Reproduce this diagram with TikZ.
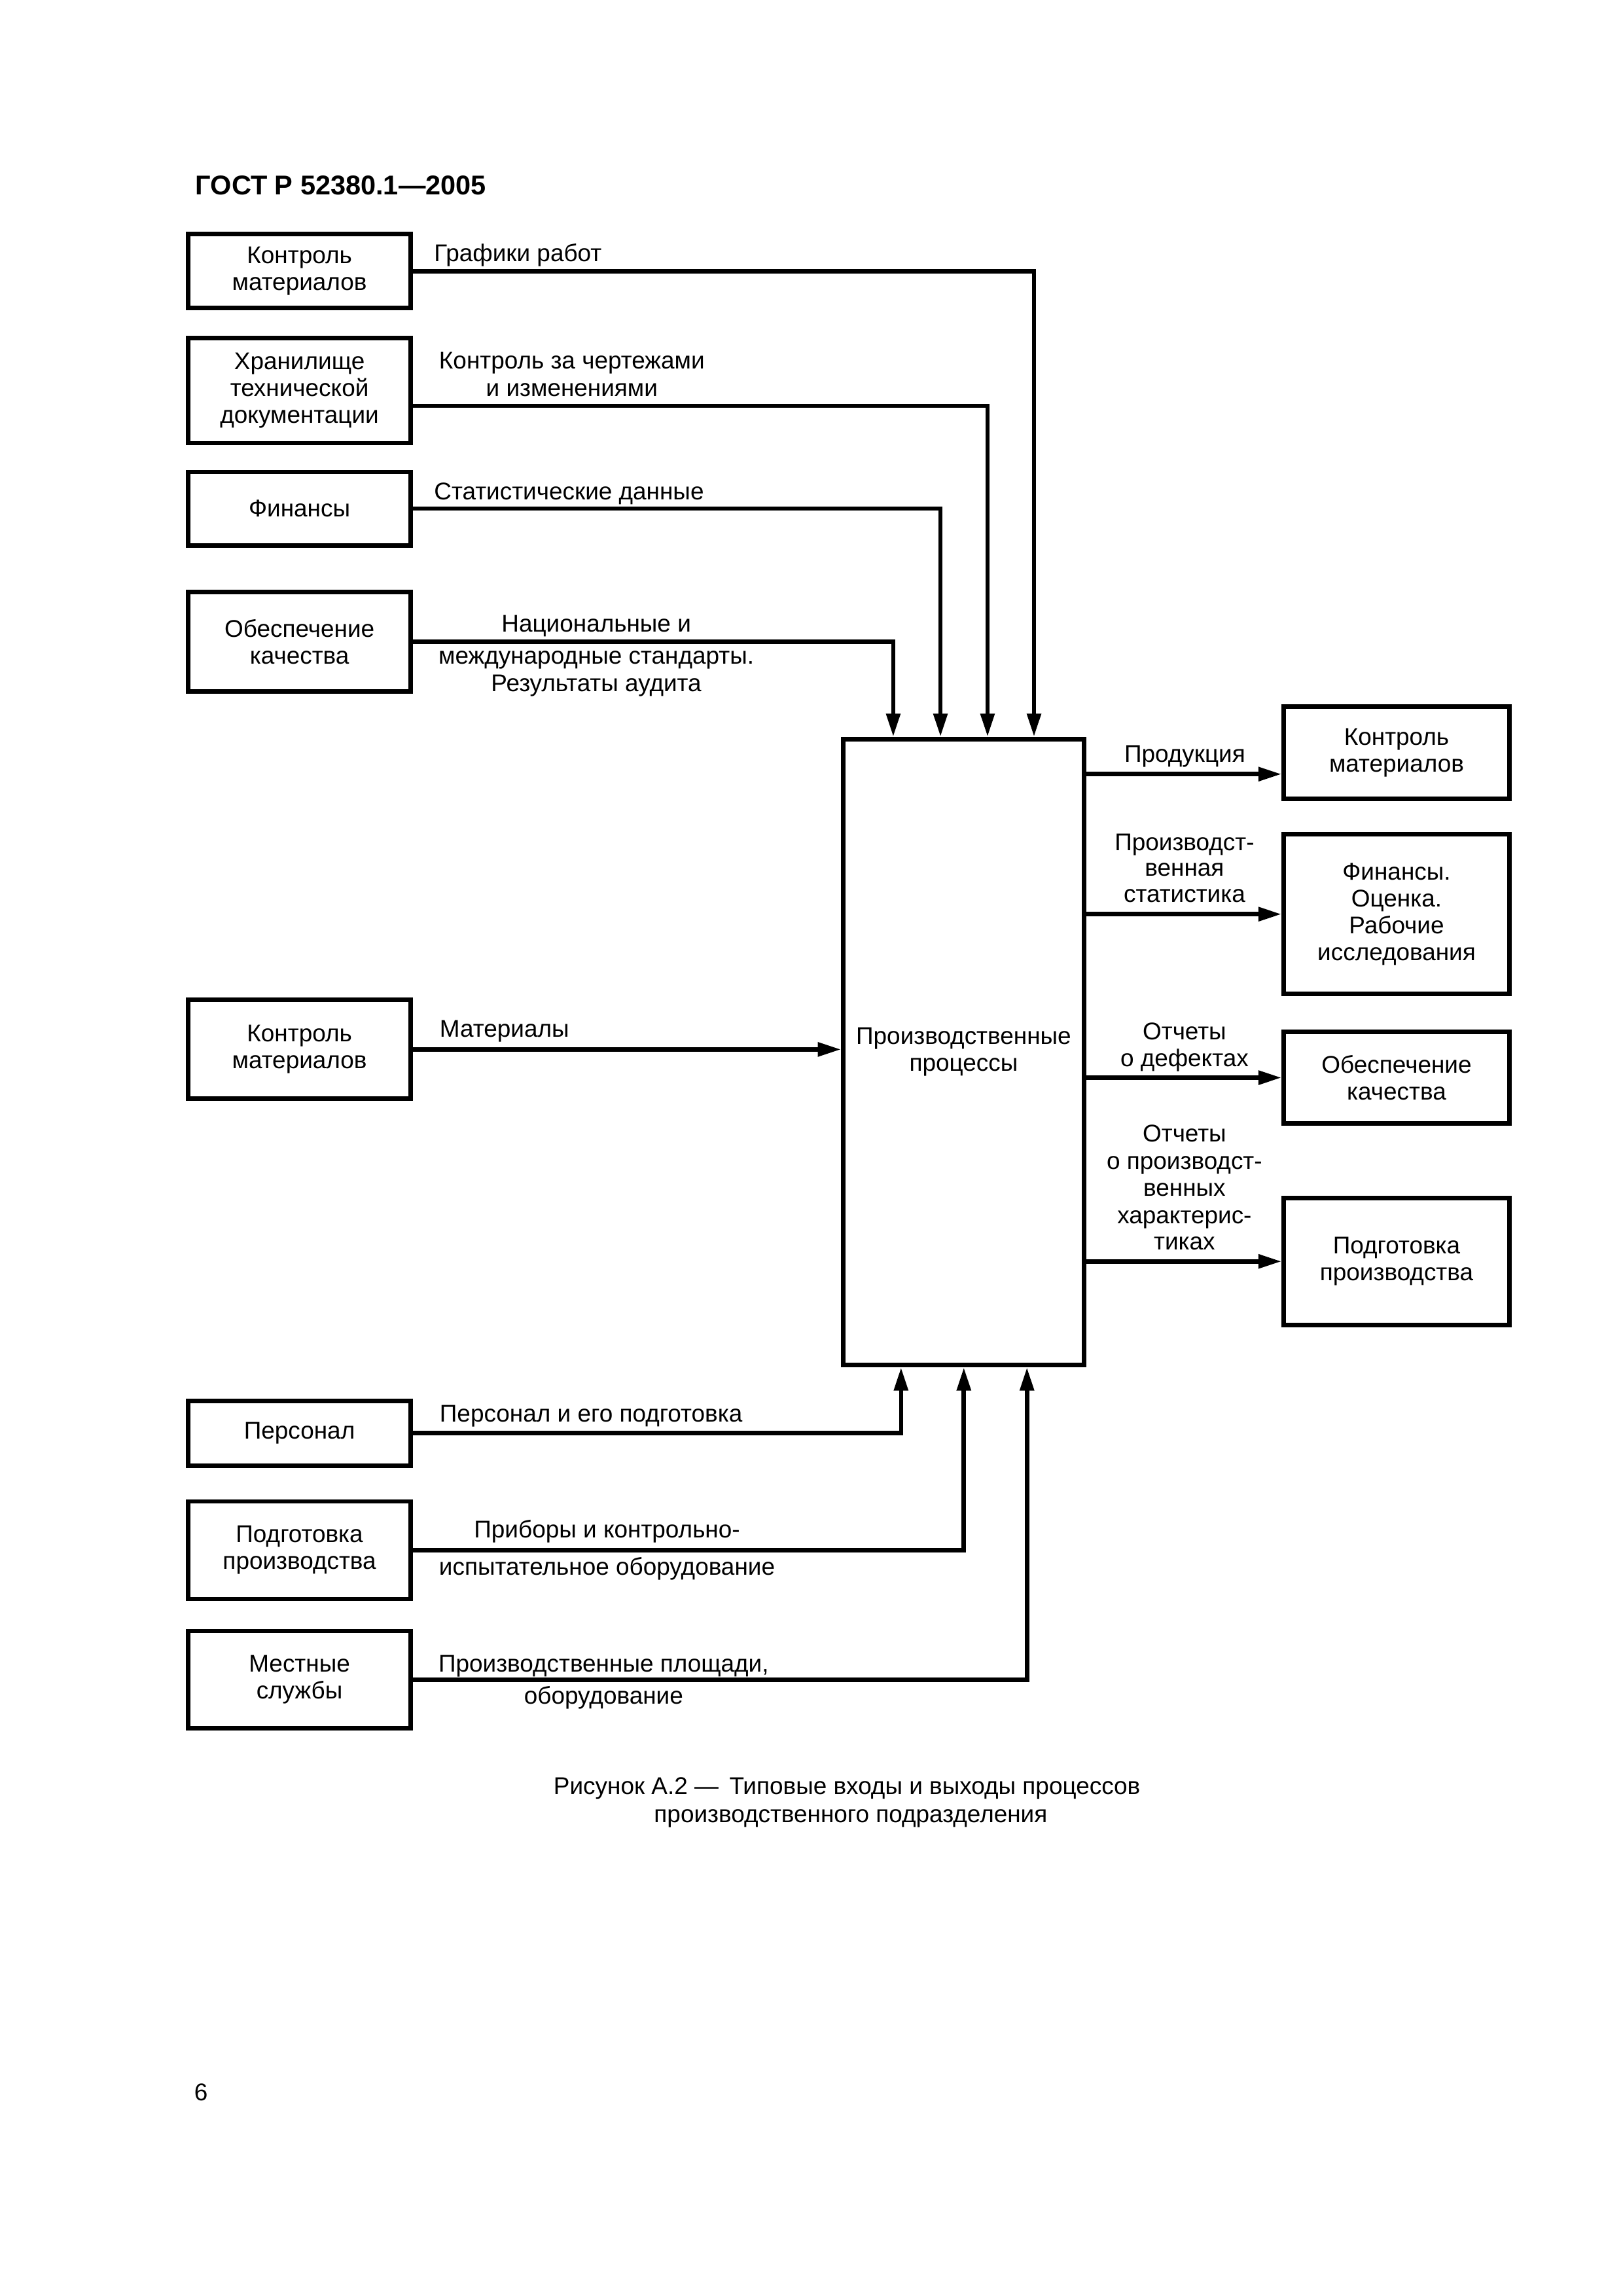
\documentclass[tikz,border=0pt]{standalone}
\usepackage{fontspec}
\setmainfont{Liberation Sans}
\usetikzlibrary{arrows.meta,calc}
\newlength\pxu
\setlength\pxu{0.190388mm}
\newcommand\lblfont{\fontsize{8.9}{9.9}\selectfont}
\begin{document}
\begin{tikzpicture}[x=0.190388mm, y=-0.190388mm,
  box/.style={draw, line width=1.65pt, minimum width=151.5\pxu, inner sep=0pt, align=center, font=\lblfont},
  rbox/.style={box, minimum width=153.4\pxu},
  arr/.style={line width=1.6pt, -{Triangle[length=3mm,width=1.75mm]}},
  lbl/.style={inner sep=0pt, font=\lblfont}
]
\useasboundingbox (0,0) rectangle (1103,1560.85);

% title
\node[inner sep=0pt, anchor=base west, font=\fontsize{10}{12}\selectfont\bfseries] (title) at (132.6,132.5) {ГОСТ Р 52380.1—2005};

% left boxes
\node[box, minimum height=50.3\pxu] (B1) at (203.6,184.35) {Контроль\\материалов};
\node[box, minimum height=71.2\pxu] (B2) at (203.6,265.6) {Хранилище\\технической\\документации};
\node[box, minimum height=49.9\pxu] (B3) at (203.6,345.75) {Финансы};
\node[box, minimum height=67.6\pxu] (B4) at (203.6,436.4) {Обеспечение\\качества};
\node[box, minimum height=67.2\pxu] (B5) at (203.6,713.4) {Контроль\\материалов};
\node[box, minimum height=44.1\pxu] (B6) at (203.6,974.25) {Персонал};
\node[box, minimum height=66.3\pxu] (B7) at (203.6,1053.85) {Подготовка\\производства};
\node[box, minimum height=66.2\pxu] (B8) at (203.6,1141.9) {Местные\\службы};

% main box
\node[box, minimum width=163.7\pxu, minimum height=425.6\pxu] (main) at (655.15,715.2) {Производственные\\процессы};

% right boxes
\node[rbox, minimum height=62.7\pxu] (R1) at (949.5,511.65) {Контроль\\материалов};
\node[rbox, minimum height=108.7\pxu] (R2) at (949.5,621.45) {Финансы.\\Оценка.\\Рабочие\\исследования};
\node[rbox, minimum height=62.4\pxu] (R3) at (949.5,732.6) {Обеспечение\\качества};
\node[rbox, minimum height=86.2\pxu] (R4) at (949.5,857.5) {Подготовка\\производства};

% column coordinates
\coordinate (c1) at (703,0);
\coordinate (c2) at (671.4,0);
\coordinate (c3) at (639.4,0);
\coordinate (c4) at (607.3,0);
\coordinate (d1) at (612.6,0);
\coordinate (d2) at (655.3,0);
\coordinate (d3) at (698.2,0);
\coordinate (b2out) at ($(B2.east)+(0,10.3)$);
\coordinate (r1in) at ($(R1.west)+(0,14.6)$);

% top inputs
\draw[arr] (B1.east) -| (c1 |- main.north);
\draw[arr] (b2out) -| (c2 |- main.north);
\draw[arr] (B3.east) -| (c3 |- main.north);
\draw[arr] (B4.east) -| (c4 |- main.north);
% left input
\draw[arr] (B5.east) -- (main.west |- B5.east);
% bottom inputs
\draw[arr] (B6.east) -| (d1 |- main.south);
\draw[arr] (B7.east) -| (d2 |- main.south);
\draw[arr] (B8.east) -| (d3 |- main.south);
% outputs
\draw[arr] (main.east |- r1in) -- (r1in);
\draw[arr] (main.east |- R2.west) -- (R2.west);
\draw[arr] (main.east |- R3.west) -- (R3.west);
\draw[arr] (main.east |- R4.west) -- (R4.west);

% labels top
\node[lbl, anchor=base west] (l1) at (294.8,177.6) {Графики работ};
\node[lbl, anchor=base] (l2a) at (388.8,250.6) {Контроль за чертежами};
\node[lbl, anchor=base] (l2b) at (388.8,269.2) {и изменениями};
\node[lbl, anchor=base west] (l3) at (294.8,339.9) {Статистические данные};
\node[lbl, anchor=base] (l4a) at (405.4,429.6) {Национальные и};
\node[lbl, anchor=base] (l4b) at (405.4,451.5) {международные стандарты.};
\node[lbl, anchor=base] (l4c) at (405.4,470.1) {Результаты аудита};
\node[lbl, anchor=base west] (l5) at (298.6,704.8) {Материалы};

% labels right
\node[lbl, anchor=base] (o1) at (805.5,518.1) {Продукция};
\node[lbl, anchor=base] (o2a) at (805.3,578) {Производст-};
\node[lbl, anchor=base] (o2b) at (805.3,595.5) {венная};
\node[lbl, anchor=base] (o2c) at (805.3,613.3) {статистика};
\node[lbl, anchor=base] (o3a) at (805.3,707) {Отчеты};
\node[lbl, anchor=base] (o3b) at (805.3,725.1) {о дефектах};
\node[lbl, anchor=base] (o4a) at (805.3,776.3) {Отчеты};
\node[lbl, anchor=base] (o4b) at (805.3,795) {о производст-};
\node[lbl, anchor=base] (o4c) at (805.3,813.1) {венных};
\node[lbl, anchor=base] (o4d) at (805.3,831.9) {характерис-};
\node[lbl, anchor=base] (o4e) at (805.3,849.7) {тиках};

% labels bottom
\node[lbl, anchor=base west] (p1) at (298.6,966.6) {Персонал и его подготовка};
\node[lbl, anchor=base] (p2a) at (412.7,1045.4) {Приборы и контрольно-};
\node[lbl, anchor=base] (p2b) at (412.7,1070.9) {испытательное оборудование};
\node[lbl, anchor=base] (p3a) at (410.4,1136.4) {Производственные площади,};
\node[lbl, anchor=base] (p3b) at (410.4,1158.6) {оборудование};

% caption
\node[lbl, anchor=base] (cap1) at (575.8,1220) {Рисунок А.2 — \,Типовые входы и выходы процессов};
\node[lbl, anchor=base] (cap2) at (578.4,1238.8) {производственного подразделения};

% page number
\node[lbl, anchor=base west] (pg) at (131.7,1428) {6};
\end{tikzpicture}
\end{document}
